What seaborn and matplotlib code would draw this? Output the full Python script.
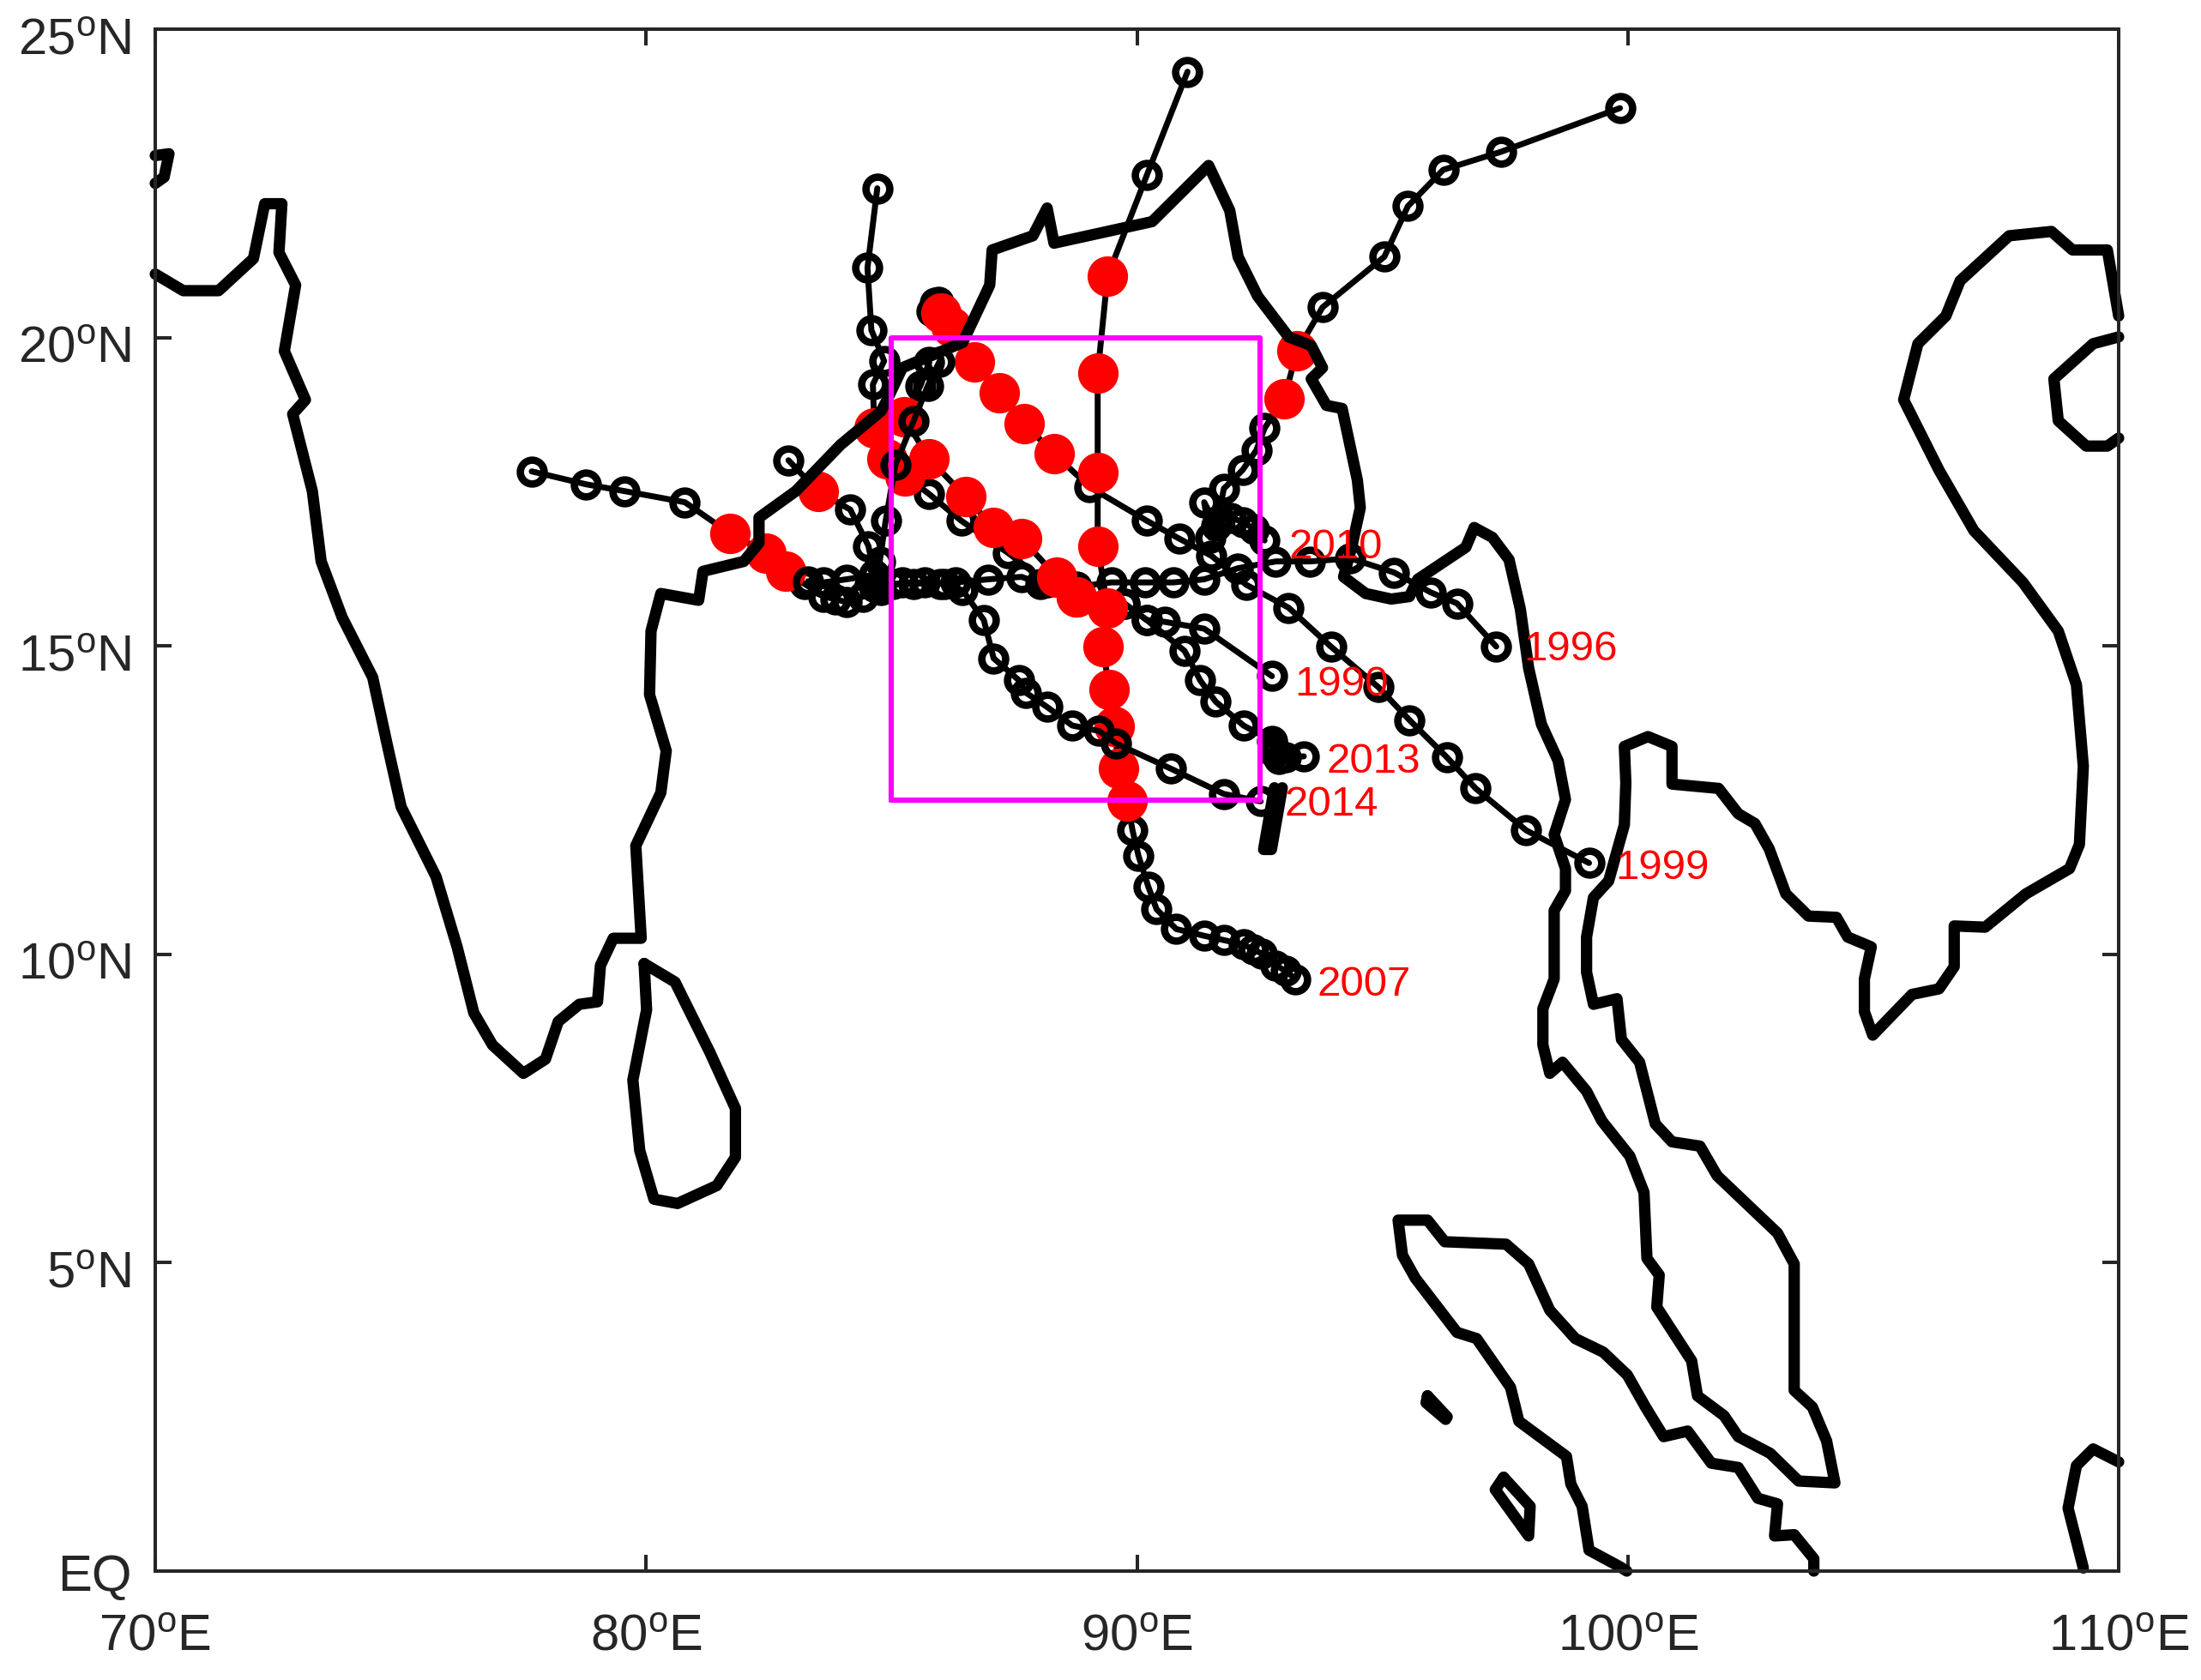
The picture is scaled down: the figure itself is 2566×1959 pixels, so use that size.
"""Cyclone tracks over the Bay of Bengal with the coastline and a study box."""

import matplotlib
matplotlib.use("Agg")
import matplotlib.pyplot as plt
from matplotlib.transforms import ScaledTranslation
import seaborn as sns

# Coastlines, lon/lat
asia_lon = [70.00, 70.57, 71.29, 72.00, 72.23, 72.58, 72.52, 72.86, 72.63, 73.06, 72.80, 73.20, 73.38, 73.81,
            74.43, 74.72, 75.01, 75.72, 76.15, 76.49, 76.87, 77.50, 77.95, 78.21, 78.64, 79.01, 79.07, 79.33,
            79.90, 79.79, 80.30, 80.41, 80.07, 80.10, 80.30, 81.07, 81.16, 81.99, 82.30, 82.30, 83.05, 83.96,
            84.79, 84.91, 85.22, 86.45, 87.00, 87.05, 87.88, 88.17, 88.31, 90.31, 91.46, 91.89, 92.06, 92.46,
            93.09, 93.55, 93.78, 93.55, 93.86, 94.18, 94.49, 94.55, 94.38, 94.21, 94.66, 95.18, 95.55, 95.72,
            96.70, 96.87, 97.24, 97.58, 97.81, 97.98, 98.24, 98.58, 98.73, 98.50, 98.73, 98.73, 98.50, 98.50,
            98.27, 98.27, 98.41, 98.67, 99.16, 99.47, 100.04, 100.33, 100.39, 100.64, 100.59, 101.30, 101.42,
            101.96, 102.25, 102.90, 103.48, 104.22, 104.05, 103.76, 103.39, 103.39, 103.05, 101.82, 101.47,
            100.90, 100.56, 100.24, 99.87, 99.78, 99.30, 99.16, 99.16, 99.30, 99.61, 99.93, 99.96, 99.93,
            100.41, 100.90, 100.90, 101.85, 102.25, 102.59, 102.88, 103.22, 103.68, 104.25, 104.48, 104.96,
            104.82, 104.82, 104.99, 105.79, 106.34, 106.65, 106.65, 107.28, 108.11, 109.00, 109.20, 109.28,
            109.14, 108.77, 108.05, 107.05, 106.34, 105.62, 105.91, 106.48, 106.77, 107.77, 108.63, 109.06,
            109.77, 110.00]
asia_lat = [21.03, 20.76, 20.76, 21.28, 22.17, 22.17, 21.38, 20.85, 19.78, 18.99, 18.76, 17.51, 16.37, 15.46,
            14.49, 13.42, 12.39, 11.26, 10.12, 9.05, 8.53, 8.07, 8.30, 8.91, 9.19, 9.23, 9.82, 10.26,
            10.26, 11.76, 12.62, 13.30, 14.21, 15.24, 15.85, 15.74, 16.21, 16.37, 16.67, 17.08, 17.51, 18.26,
            18.81, 18.99, 19.51, 19.92, 20.85, 21.42, 21.65, 22.10, 21.53, 21.88, 22.79, 22.06, 21.31, 20.67,
            20.01, 19.87, 19.51, 19.33, 18.90, 18.85, 17.69, 17.24, 16.62, 16.12, 15.85, 15.76, 15.80, 16.08,
            16.60, 16.92, 16.76, 16.40, 15.60, 14.64, 13.73, 13.14, 12.51, 11.94, 11.39, 11.03, 10.71, 9.60,
            9.12, 8.53, 8.07, 8.25, 7.78, 7.30, 6.73, 6.14, 5.07, 4.80, 4.28, 3.41, 2.84,
            2.52, 2.18, 1.91, 1.46, 1.43, 2.11, 2.66, 2.93, 4.98, 5.48, 6.41, 6.89,
            6.96, 7.25, 8.25, 8.62, 9.28, 9.19, 9.71, 10.28, 10.92, 11.19, 12.10, 12.78, 13.37,
            13.53, 13.37, 12.76, 12.69, 12.28, 12.12, 11.71, 10.98, 10.62, 10.60, 10.28, 10.12,
            9.60, 9.07, 8.69, 9.35, 9.44, 9.80, 10.46, 10.44, 10.98, 11.39, 11.78, 13.05,
            14.37, 15.24, 16.03, 16.87, 17.85, 18.99, 19.90, 20.35, 20.92, 21.65, 21.72, 21.42,
            21.42, 20.35]

hainan_lon = [110.00, 109.48, 108.68, 108.77, 109.34, 109.77, 110.00]
hainan_lat = [20.01, 19.90, 19.33, 18.65, 18.24, 18.24, 18.37]

srilanka_lon = [79.96, 80.59, 81.30, 81.82, 81.82, 81.44, 80.64, 80.16, 79.87, 79.73, 80.01, 79.96]
srilanka_lat = [9.85, 9.55, 8.41, 7.50, 6.71, 6.25, 5.96, 6.03, 6.82, 7.96, 9.10, 9.85]

sumatra_lon = [99.98, 99.84, 99.21, 99.07, 98.84, 98.75, 97.78, 97.61, 96.92, 96.52, 95.67, 95.41, 95.32,
               95.92, 96.27, 97.52, 97.98, 98.41, 98.93, 99.50, 99.99, 100.36, 100.73, 101.22, 101.70,
               102.25, 102.65, 103.05, 102.99, 103.39, 103.79, 103.79]
sumatra_lat = [0.00, 0.07, 0.34, 1.05, 1.41, 1.86, 2.43, 2.98, 3.77, 3.87, 4.75, 5.12, 5.69,
               5.69, 5.34, 5.30, 4.98, 4.23, 3.77, 3.55, 3.18, 2.66, 2.18, 2.27, 1.75,
               1.68, 1.18, 1.09, 0.57, 0.59, 0.20, 0.00]

borneo_lon = [109.28, 108.97, 109.14, 109.48, 110.00]
borneo_lat = [0.05, 1.02, 1.71, 1.98, 1.77]

kutch_lon = [70.00, 70.28, 70.18, 70.00]
kutch_lat = [22.95, 22.98, 22.60, 22.50]

simeulue_lon = [95.92, 95.89, 96.29, 96.32, 95.92]
simeulue_lat = [2.84, 2.73, 2.46, 2.50, 2.84]

nias_lon = [97.47, 97.30, 97.98, 98.01, 97.47]
nias_lat = [1.52, 1.32, 0.57, 1.05, 1.52]

andaman_lon = [92.80, 92.58, 92.74, 92.96]
andaman_lat = [12.70, 11.70, 11.70, 12.70]

# Tracks: lon, lat and the positions along the track shown in red
lon_1996 = [97.32, 96.52, 95.98, 95.24, 94.35, 93.52, 92.83, 92.06, 91.37, 90.74, 90.17, 89.48, 88.77, 88.03,
            87.65, 86.97, 86.31, 85.99, 85.68, 85.22, 84.78, 84.42, 84.08, 83.85, 83.62, 83.22, 82.85, 82.45,
            81.70, 80.79, 79.56, 78.78, 77.67]
lat_1996 = [14.99, 15.69, 15.87, 16.19, 16.42, 16.37, 16.37, 16.26, 16.08, 16.03, 16.03, 16.03, 15.96, 16.01,
            16.12, 16.08, 16.03, 16.01, 16.03, 16.03, 15.90, 15.80, 15.71, 15.76, 15.80, 16.01, 16.21, 16.51,
            16.83, 17.33, 17.51, 17.62, 17.83]
red_1996 = [26, 27, 28]

lon_2010 = [92.60, 92.38, 92.15, 91.92, 91.69, 91.49, 91.37, 91.62, 91.77, 92.15, 92.43, 92.60, 93.00, 93.26,
            93.78, 95.04, 95.52, 96.24, 97.41, 99.84]
lat_2010 = [16.71, 16.90, 17.01, 17.08, 17.05, 16.76, 17.33, 16.95, 17.55, 17.85, 18.17, 18.53, 19.01, 19.78,
            20.49, 21.31, 22.13, 22.72, 23.01, 23.72]
red_2010 = [12, 13]

lon_coast = [82.90, 83.50, 84.16, 84.53, 84.65, 84.08, 83.62, 83.30]
lat_coast = [18.01, 17.51, 17.21, 16.62, 16.15, 16.08, 16.03, 16.05]
red_coast = [1]

lon_1990 = [92.75, 91.37, 90.57, 90.20, 89.74, 88.77]
lat_1990 = [14.51, 15.28, 15.39, 15.42, 15.69, 15.80]
red_1990 = [5]

lon_north = [84.71, 84.51, 84.59, 84.85, 84.62, 84.65, 84.91, 85.28, 85.77, 86.42, 87.37, 88.17]
lat_north = [22.42, 21.13, 20.12, 19.62, 19.24, 18.53, 18.03, 17.76, 17.46, 17.03, 16.51, 16.03]
red_north = [5, 6, 7]

lon_1999 = [99.21, 97.93, 96.90, 96.32, 95.55, 94.92, 93.95, 93.09, 92.23, 91.52, 90.86, 90.20, 89.03, 88.31,
            87.71, 87.20, 86.68, 86.22, 86.00, 85.82, 85.88, 85.95]
lat_1999 = [11.48, 12.01, 12.69, 13.19, 13.80, 14.33, 14.99, 15.62, 15.99, 16.46, 16.74, 17.03, 17.58, 18.12,
            18.60, 19.10, 19.60, 20.17, 20.40, 20.42, 20.56, 20.58]
red_1999 = [13, 14, 15, 16, 17, 18]

lon_2013 = [93.40, 93.03, 92.89, 92.80, 92.77, 92.75, 92.17, 91.60, 91.29, 90.97, 90.20, 89.74, 88.77, 88.37,
            87.65, 87.08, 86.51, 85.77, 85.25, 85.59, 85.77]
lat_2013 = [13.21, 13.19, 13.17, 13.27, 13.37, 13.46, 13.71, 14.10, 14.44, 14.92, 15.42, 15.69, 15.80, 16.12,
            16.74, 16.92, 17.42, 18.03, 18.71, 19.22, 19.60]
red_2013 = [12, 13, 14, 15, 16, 17, 18]

lon_2007 = [93.23, 93.03, 92.83, 92.55, 92.36, 92.17, 91.77, 91.37, 90.80, 90.40, 90.23,
            90.03, 89.91, 89.80, 89.63, 89.54, 89.43, 89.31, 89.40, 89.20, 89.20, 89.20, 89.40, 90.20, 91.03]
lat_2007 = [9.60, 9.73, 9.82, 10.01, 10.08, 10.16, 10.23, 10.30, 10.41, 10.73, 11.10,
            11.60, 12.01, 12.48, 13.01, 13.69, 14.30, 14.99, 15.62, 16.62, 17.81, 19.42, 20.99, 22.63, 24.31]
red_2007 = [13, 14, 15, 16, 17, 18, 19, 20, 21, 22]

lon_2014 = [92.52, 91.77, 90.69, 89.57, 89.23, 88.68, 88.17, 87.74, 87.60, 87.08, 86.88, 86.45, 86.08, 85.45,
            85.02, 84.65]
lat_2014 = [12.48, 12.60, 13.01, 13.42, 13.62, 13.71, 14.01, 14.24, 14.44, 14.80, 15.42, 15.90, 16.01, 16.01,
            16.01, 15.96]
red_2014 = []

lon_last = [84.65, 84.76, 84.88, 85.08, 85.45, 85.74, 85.97]
lat_last = [15.96, 16.37, 17.03, 17.94, 18.65, 19.22, 19.60]
red_last = []

# Study box
box_lon = [85, 92.5, 92.5, 85, 85]
box_lat = [12.5, 12.5, 20, 20, 12.5]

# Year labels
label_years = ["1996", "1999", "2010", "1990", "2013", "2014", "2007"]
label_lon = [97.88, 99.74, 93.10, 93.21, 93.87, 93.01, 93.67]
label_lat = [14.94, 11.39, 16.60, 14.37, 13.12, 12.43, 9.50]

x_ticks = [70, 80, 90, 100, 110]
x_labels = [r"$\mathrm{70}^{\mathrm{o}}\mathrm{E}$", r"$\mathrm{80}^{\mathrm{o}}\mathrm{E}$",
            r"$\mathrm{90}^{\mathrm{o}}\mathrm{E}$", r"$\mathrm{100}^{\mathrm{o}}\mathrm{E}$",
            r"$\mathrm{110}^{\mathrm{o}}\mathrm{E}$"]
y_ticks = [0, 5, 10, 15, 20, 25]
y_labels = ["EQ", r"$\mathrm{5}^{\mathrm{o}}\mathrm{N}$", r"$\mathrm{10}^{\mathrm{o}}\mathrm{N}$",
            r"$\mathrm{15}^{\mathrm{o}}\mathrm{N}$", r"$\mathrm{20}^{\mathrm{o}}\mathrm{N}$",
            r"$\mathrm{25}^{\mathrm{o}}\mathrm{N}$"]

AXIS_COLOR = "#262626"
BLACK = "#000000"


def draw_track(ax, lon, lat, red) -> None:
    """Draw one track as a line with open rings, then its red points on top."""
    sns.lineplot(
        x=lon, y=lat, sort=False, estimator=None, ax=ax, color=BLACK, linewidth=5,
        marker="o", markersize=20, markerfacecolor="none", markeredgecolor=BLACK,
        markeredgewidth=6.2, legend=False,
    )
    if red:
        sns.scatterplot(
            x=[lon[i] for i in red], y=[lat[i] for i in red], ax=ax, s=1156,
            color="#ff0000", linewidth=0, zorder=2, legend=False,
        )


def draw_coast(ax, lon, lat) -> None:
    """Draw one coastline piece."""
    sns.lineplot(
        x=lon, y=lat, sort=False, estimator=None, ax=ax, color=BLACK, linewidth=9.5,
        clip_on=False, solid_joinstyle="round", solid_capstyle="round", legend=False,
    )


sns.set_theme(style="ticks")
plt.rcParams["font.family"] = ["Liberation Sans", "DejaVu Sans"]
plt.rcParams["mathtext.fontset"] = "custom"
plt.rcParams["mathtext.rm"] = "Liberation Sans"
plt.rcParams["mathtext.default"] = "rm"

fig = plt.figure(figsize=(25.66, 19.59), dpi=100)
ax = fig.add_axes([181 / 2566, 1 - 1832 / 1959, (2470 - 181) / 2566, (1832 - 34) / 1959])

draw_track(ax, lon_1996, lat_1996, red_1996)
draw_track(ax, lon_2010, lat_2010, red_2010)

for year, x, y in zip(label_years, label_lon, label_lat):
    ax.text(x, y, year, color="#ff0000", fontsize=35.5, ha="left", va="center")

draw_track(ax, lon_coast, lat_coast, red_coast)
draw_track(ax, lon_1990, lat_1990, red_1990)
draw_track(ax, lon_north, lat_north, red_north)
draw_track(ax, lon_1999, lat_1999, red_1999)
draw_track(ax, lon_2013, lat_2013, red_2013)
draw_track(ax, lon_2007, lat_2007, red_2007)
draw_track(ax, lon_2014, lat_2014, red_2014)
draw_track(ax, lon_last, lat_last, red_last)

draw_coast(ax, asia_lon, asia_lat)
draw_coast(ax, hainan_lon, hainan_lat)
draw_coast(ax, srilanka_lon, srilanka_lat)
draw_coast(ax, sumatra_lon, sumatra_lat)
draw_coast(ax, borneo_lon, borneo_lat)
draw_coast(ax, kutch_lon, kutch_lat)
draw_coast(ax, simeulue_lon, simeulue_lat)
draw_coast(ax, nias_lon, nias_lat)
draw_coast(ax, andaman_lon, andaman_lat)

sns.lineplot(x=box_lon, y=box_lat, sort=False, estimator=None, ax=ax, color="#ff00ff", linewidth=4.4, legend=False)

ax.set_xlim(70, 110)
ax.set_ylim(0, 25)
ax.set_xlabel("")
ax.set_ylabel("")
ax.set_xticks(x_ticks, x_labels)
ax.set_yticks(y_ticks, y_labels)
ax.tick_params(axis="both", direction="in", length=14, width=2.9, color=AXIS_COLOR,
               labelcolor=AXIS_COLOR, labelsize=43, top=True, right=True)
ax.tick_params(axis="x", pad=36)
ax.tick_params(axis="y", pad=20)
for label in ax.get_yticklabels():
    # EQ has no raised ring, so its box sits lower than the others
    drop = 2 if label.get_text() == "EQ" else 8
    label.set_transform(label.get_transform() + ScaledTranslation(0, -drop / 100, fig.dpi_scale_trans))
for spine in ax.spines.values():
    spine.set_visible(True)
    spine.set_linewidth(2.9)
    spine.set_color(AXIS_COLOR)

plt.savefig("out.png", dpi=100)
plt.close()
